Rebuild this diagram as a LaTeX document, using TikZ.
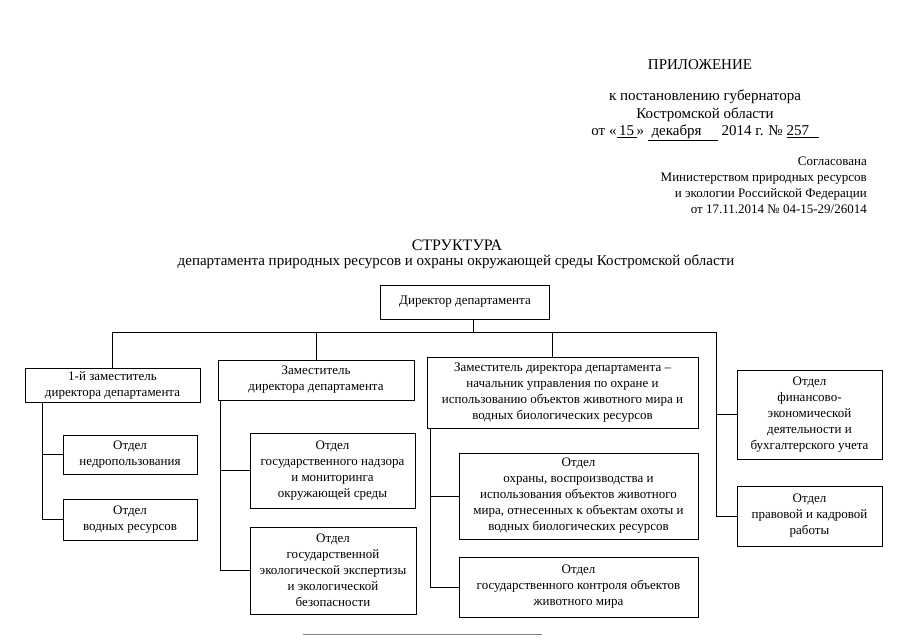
\documentclass[tikz,border=0pt]{standalone}
\usepackage{fontspec}
\setmainfont{Liberation Serif}
\tikzset{otdel/.style={draw, align=center, inner sep=2pt, font=\fontsize{13}{16}\selectfont},
  hdr/.style={inner sep=0pt, font=\fontsize{15}{17}\selectfont}}

\begin{document}
\begin{tikzpicture}[x=1pt,y=-1pt]
\useasboundingbox (0,0) rectangle (905,640);
\node[hdr] (pril) at (700,65) {ПРИЛОЖЕНИЕ};
\node[hdr] (post) at (705,97) {к постановлению губернатора};
\node[hdr] (obl) at (705,115) {Костромской области};
\node[hdr] (date) at (705,133) {от «\underline{\makebox[20pt]{15}}» \underline{\makebox[70pt][l]{ декабря}} 2014 г. № \underline{\makebox[32pt][l]{257}}};
\node[hdr, anchor=north east, align=right, font=\fontsize{13}{15.8}\selectfont] (soglas) at (867,157)
  {Согласована\\Министерством природных ресурсов\\и экологии Российской Федерации\\от 17.11.2014 № 04-15-29/26014};
\node[hdr, font=\fontsize{16}{18}\selectfont] (title) at (457,245) {СТРУКТУРА};
\node[hdr] (subtitle) at (456,262) {департамента природных ресурсов и охраны окружающей среды Костромской области};

\node[otdel, minimum width=169, minimum height=34] (dir) at (465,302) {Директор департамента};
\node[otdel, minimum width=175, minimum height=34] (zam1) at (112.5,385) {1-й заместитель\\директора департамента};
\node[otdel, minimum width=196, minimum height=40] (zam2) at (316,380) {Заместитель\\директора департамента};
\node[otdel, minimum width=271, minimum height=71] (zam3) at (562.5,392.5) {Заместитель директора департамента --\\начальник управления по охране и\\использованию объектов животного мира и\\водных биологических ресурсов};
\node[otdel, minimum width=145, minimum height=89] (fin) at (809.5,414.5) {Отдел\\финансово-\\экономической\\деятельности и\\бухгалтерского учета};
\node[otdel, minimum width=145, minimum height=60] (prav) at (809.5,516) {Отдел\\правовой и кадровой\\работы};
\node[otdel, minimum width=134, minimum height=39] (nedro) at (130,454.5) {Отдел\\недропользования};
\node[otdel, minimum width=134, minimum height=41] (vodn) at (130,519.5) {Отдел\\водных ресурсов};
\node[otdel, minimum width=165, minimum height=75] (nadz) at (332.5,470.5) {Отдел\\государственного надзора\\и мониторинга\\окружающей среды};
\node[otdel, minimum width=166, minimum height=87] (ekspert) at (333,570.5) {Отдел\\государственной\\экологической экспертизы\\и экологической\\безопасности};
\node[otdel, minimum width=239, minimum height=86] (ohrana) at (578.5,496) {Отдел\\охраны, воспроизводства и\\использования объектов животного\\мира, отнесенных к объектам охоты и\\водных биологических ресурсов};
\node[otdel, minimum width=239, minimum height=60] (kontrol) at (578.5,587) {Отдел\\государственного контроля объектов\\животного мира};

\coordinate (bus) at (716,332);
\draw (zam1.north) |- (bus) |- (prav.west);
\draw ([xshift=8]dir.south) -- ([xshift=8]dir.south |- bus);
\draw (zam2.north) -- (zam2.north |- bus);
\draw ([xshift=-10]zam3.north) -- ([xshift=-10]zam3.north |- bus);
\draw (bus |- fin.west) -- (fin.west);

\coordinate (v1) at ([xshift=17]zam1.south west);
\draw (v1) |- (nedro.west);
\draw (v1) |- (vodn.west);
\coordinate (v2) at ([xshift=2]zam2.south west);
\draw (v2) |- (nadz.west);
\draw (v2) |- (ekspert.west);
\coordinate (v3) at ([xshift=3]zam3.south west);
\draw (v3) |- (ohrana.west);
\draw (v3) |- (kontrol.west);

\draw[gray] (303,634) -- (542,634);
\end{tikzpicture}
\end{document}
